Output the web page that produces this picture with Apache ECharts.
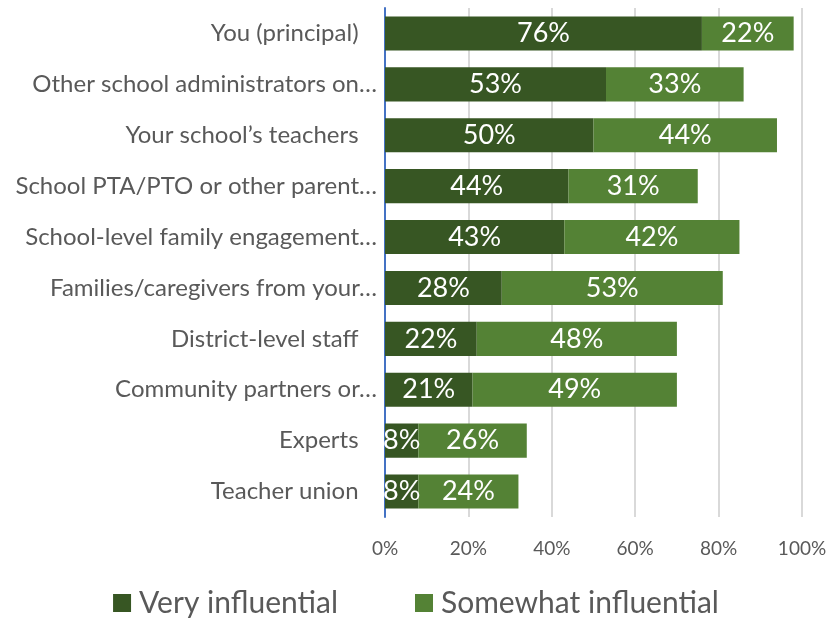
<!DOCTYPE html>
<html>
<head>
<meta charset="utf-8">
<script src="https://cdn.jsdelivr.net/npm/echarts@6/dist/echarts.min.js"></script>
<style>
  html, body { margin: 0; padding: 0; background: #fff; }
  #main { width: 832px; height: 618px; }
</style>
</head>
<body>
<div id="main"></div>
<script>
// categories top to bottom, as shown
var categories = [
    'You (principal)   ',
    'Other school administrators on…',
    'Your school\u2019s teachers   ',
    'School PTA/PTO or other parent…',
    'School-level family engagement…',
    'Families/caregivers from your…',
    'District-level staff   ',
    'Community partners or…',
    'Experts   ',
    'Teacher union   '
];
var veryInfluential = [76, 53, 50, 44, 43, 28, 22, 21, 8, 8];
var somewhatInfluential = [22, 33, 44, 31, 42, 53, 48, 49, 26, 24];
var xTicks = [0, 20, 40, 60, 80, 100];

var FONT = 'Lato';

var myChart = echarts.init(document.getElementById('main'));

var labelStyle = {
    show: true,
    position: 'inside',
    color: '#ffffff',
    fontFamily: FONT,
    fontSize: 27,
    formatter: function (p) { return p.value + '%'; }
};

myChart.setOption({
    animation: false,
    textStyle: { fontFamily: FONT },
    grid: { left: 385, right: 30, top: 8, bottom: 101 },
    legend: {
        top: 583,
        left: 'center',
        itemWidth: 18,
        itemHeight: 18,
        itemGap: 77,
        icon: 'rect',
        textStyle: { color: '#595959', fontSize: 30, fontFamily: FONT, padding: [0, 0, 0, 3] },
        data: ['Very influential', 'Somewhat influential']
    },
    xAxis: {
        type: 'value',
        min: xTicks[0],
        max: xTicks[xTicks.length - 1],
        interval: 20,
        axisLine: { show: false },
        axisTick: { show: false },
        splitLine: { lineStyle: { color: '#d9d9d9', width: 2 } },
        axisLabel: {
            color: '#595959',
            fontSize: 19,
            margin: 22,
            formatter: '{value}%'
        }
    },
    yAxis: {
        type: 'category',
        inverse: true,
        data: categories,
        axisLine: { show: true, lineStyle: { color: '#4472c4', width: 2 } },
        axisTick: { show: false },
        axisLabel: { color: '#595959', fontSize: 24, margin: 8 }
    },
    series: [{
        name: 'Very influential',
        type: 'bar',
        stack: 'total',
        barCategoryGap: '33%',
        itemStyle: { color: '#375623' },
        label: labelStyle,
        data: veryInfluential
    }, {
        name: 'Somewhat influential',
        type: 'bar',
        stack: 'total',
        barCategoryGap: '33%',
        itemStyle: { color: '#548235' },
        label: labelStyle,
        data: somewhatInfluential
    }]
});
</script>
</body>
</html>
